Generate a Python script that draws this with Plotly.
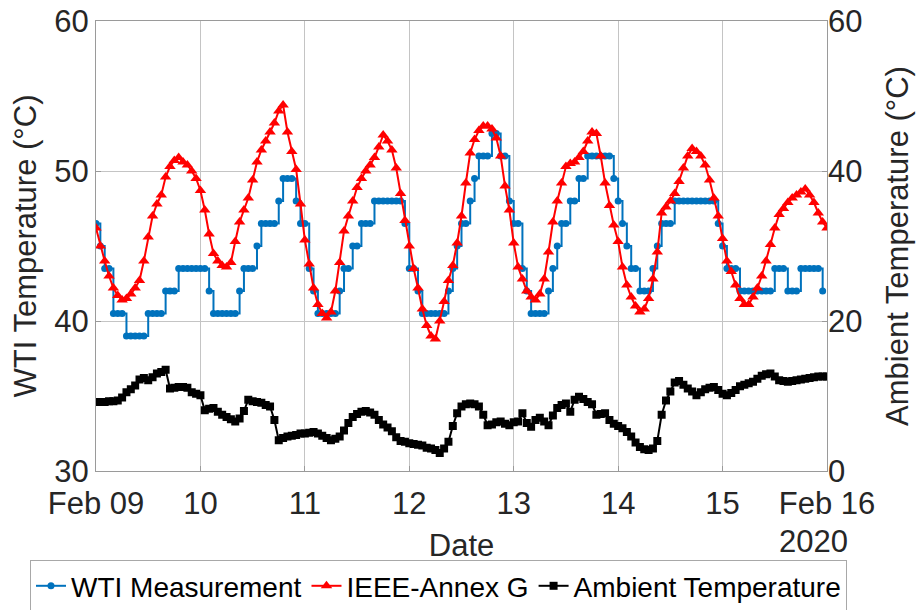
import plotly.graph_objects as go
import pandas as pd

start = "2020-02-09 00:00"

wti = [46.5, 45, 43.5, 43.5, 40.5, 40.5, 40.5, 39, 39, 39, 39, 39, 40.5, 40.5, 40.5, 40.5,
       42, 42, 42, 43.5, 43.5, 43.5, 43.5, 43.5, 43.5, 43.5, 42, 40.5, 40.5, 40.5, 40.5, 40.5,
       40.5, 42, 43.5, 43.5, 43.5, 45, 46.5, 46.5, 46.5, 46.5, 48, 49.5, 49.5, 49.5, 48, 46.5,
       46.5, 43.5, 42, 40.5, 40.5, 40.5, 40.5, 40.5, 42, 43.5, 43.5, 45, 45, 46.5, 46.5, 46.5,
       48, 48, 48, 48, 48, 48, 48, 46.5, 43.5, 43.5, 42, 40.5, 40.5, 40.5, 40.5, 40.5, 40.5,
       42, 43.5, 45, 46.5, 46.5, 48, 49.5, 51, 51, 51, 52.5, 52.5, 51, 51, 48, 46.5, 46.5,
       43.5, 42, 40.5, 40.5, 40.5, 40.5, 42, 43.5, 45, 46.5, 46.5, 48, 48, 49.5, 49.5, 51, 51,
       51, 51, 51, 51, 49.5, 48, 46.5, 45, 43.5, 43.5, 42, 42, 42, 43.5, 45, 46.5, 46.5, 46.5,
       48, 48, 48, 48, 48, 48, 48, 48, 48, 48, 46.5, 45, 43.5, 43.5, 43.5, 42, 42, 42, 42, 42,
       42, 42, 42, 43.5, 43.5, 43.5, 42, 42, 42, 43.5, 43.5, 43.5, 43.5, 43.5, 42]

ieee = [46.2, 45.0, 44.0, 43.0, 42.2, 41.7, 41.4, 41.5, 41.8, 42.2, 42.7, 44.0, 45.6, 47.0,
        47.8, 48.4, 49.6, 50.3, 50.7, 50.9, 50.6, 50.4, 50.0, 49.5, 48.7, 47.4, 45.8, 44.5,
        44.0, 43.7, 43.6, 43.9, 45.3, 46.6, 47.4, 48.2, 49.4, 50.6, 51.4, 52.0, 52.6, 53.2,
        54.0, 54.4, 52.6, 51.3, 50.1, 47.8, 45.4, 43.8, 42.2, 41.1, 40.5, 40.2, 40.6, 42.0,
        43.9, 46.0, 47.0, 48.0, 48.9, 49.5, 50.0, 50.4, 50.9, 51.6, 52.4, 52.0, 51.4, 50.2,
        48.5, 46.7, 45.0, 43.5, 42.2, 40.8, 39.7, 39.0, 38.8, 40.0, 41.3, 42.7, 43.7, 45.2,
        47.0, 49.2, 51.2, 52.1, 52.7, 53.0, 53.0, 52.8, 52.2, 51.0, 49.0, 47.4, 45.2, 43.6,
        42.8, 42.0, 41.6, 41.4, 41.8, 42.8, 44.6, 46.6, 48.0, 49.2, 50.3, 50.5, 50.6, 50.9,
        51.3, 52.0, 52.6, 52.5, 51.0, 49.2, 47.7, 46.4, 45.3, 43.6, 42.4, 41.6, 41.0, 40.6,
        40.8, 41.5, 42.8, 44.6, 47.2, 47.6, 48.0, 48.5, 49.3, 50.2, 51.0, 51.5, 51.3, 51.0,
        50.4, 49.4, 48.2, 47.0, 45.5, 44.0, 43.3, 42.4, 41.5, 41.1, 41.1, 41.6, 42.2, 43.0,
        44.0, 45.1, 46.2, 47.1, 47.5, 47.9, 48.2, 48.4, 48.6, 48.8, 48.4, 47.9, 47.2, 46.6,
        46.2]

ambient = [9.2, 9.2, 9.2, 9.3, 9.3, 9.4, 9.8, 10.5, 10.9, 11.4, 12.2, 12.4, 12.1, 12.5,
           13.0, 13.2, 13.5, 11.0, 11.1, 11.2, 11.2, 11.1, 10.5, 10.3, 10.1, 8.1, 8.3, 8.4,
           7.9, 7.5, 7.2, 6.9, 6.6, 7.0, 8.0, 9.5, 9.3, 9.2, 9.1, 8.8, 8.6, 6.8, 4.1, 4.4,
           4.6, 4.7, 4.8, 5.0, 5.0, 5.1, 5.2, 5.0, 4.7, 4.4, 4.1, 4.3, 4.6, 5.4, 6.4, 7.2,
           7.6, 7.9, 8.0, 7.8, 7.5, 6.8, 6.2, 5.8, 5.3, 4.5, 4.0, 3.9, 3.7, 3.6, 3.5, 3.4,
           3.1, 3.0, 2.8, 2.4, 3.0, 3.9, 6.0, 7.7, 8.6, 8.9, 9.0, 8.9, 8.6, 7.5, 6.1, 6.2,
           6.5, 6.6, 6.3, 6.1, 6.5, 6.6, 7.7, 6.4, 5.9, 6.8, 7.1, 6.6, 6.1, 7.4, 8.4, 8.8,
           9.0, 7.9, 9.5, 9.9, 9.6, 9.2, 8.9, 7.5, 7.6, 7.7, 6.8, 6.3, 6.0, 5.7, 5.2, 4.6,
           3.8, 3.2, 2.9, 2.8, 3.0, 4.0, 7.5, 9.4, 10.6, 11.8, 12.0, 11.5, 11.0, 10.6, 10.1,
           10.5, 10.9, 11.1, 11.2, 10.8, 10.3, 10.1, 10.4, 10.8, 11.3, 11.5, 11.7, 11.9, 12.3,
           12.7, 12.9, 13.0, 12.6, 12.1, 12.0, 11.9, 12.0, 12.1, 12.2, 12.3, 12.4, 12.5, 12.6,
           12.6, 12.6]

day_ticks = ["2020-02-09", "2020-02-10", "2020-02-11", "2020-02-12", "2020-02-13",
             "2020-02-14", "2020-02-15", "2020-02-16"]
day_labels = ["Feb 09", "10", "11", "12", "13", "14", "15", "Feb 16"]
left_ticks = [30, 40, 50, 60]
right_ticks = [0, 20, 40, 60]

t_wti = pd.date_range(start, periods=len(wti), freq="h")
t_ieee = pd.date_range(start, periods=len(ieee), freq="h")
t_amb = pd.date_range(start, periods=len(ambient), freq="h")

FONT = "Liberation Sans, Arial, Helvetica, sans-serif"
TXT = "#262626"
FS = 31
GRID = "#c4c4c4"
AX = "#9a9a9a"

fig = go.Figure()
fig.add_trace(go.Scatter(x=t_wti, y=wti, mode="lines+markers", name="WTI Measurement",
                         line=dict(color="#0072BD", width=2, shape="hv"),
                         marker=dict(symbol="circle", size=7, color="#0072BD")))
fig.add_trace(go.Scatter(x=t_ieee, y=ieee, mode="lines+markers", name="IEEE-Annex G",
                         line=dict(color="#FF0000", width=2),
                         marker=dict(symbol="triangle-up", size=10, color="#FF0000")))
fig.add_trace(go.Scatter(x=t_amb, y=ambient, mode="lines+markers", name="Ambient Temperature",
                         yaxis="y2",
                         line=dict(color="#000000", width=2),
                         marker=dict(symbol="square", size=8, color="#000000")))

fig.update_layout(
    template="none",
    width=923, height=610,
    margin=dict(l=96, r=96, t=21, b=139, autoexpand=False),
    paper_bgcolor="white", plot_bgcolor="white",
    font=dict(family=FONT, size=FS, color=TXT),
    showlegend=True,
    legend=dict(orientation="h", x=-0.0903, xanchor="left", y=-0.198, yanchor="top",
                bgcolor="white", bordercolor="#a8a8a8", borderwidth=1,
                font=dict(size=28, color="#000000", family=FONT),
                itemwidth=30, tracegroupgap=0),
    xaxis=dict(range=[day_ticks[0], day_ticks[-1]], tickmode="array",
               tickvals=day_ticks, ticktext=day_labels,
               showgrid=True, gridcolor=GRID, gridwidth=1,
               showline=True, linecolor=AX, mirror=True, linewidth=1,
               ticks="inside", ticklen=5, tickcolor=AX,
               ticklabelstandoff=5,
               tickfont=dict(size=FS, color=TXT),
               automargin=False,
               title=dict(text="Date", font=dict(size=FS, color=TXT), standoff=14),
               zeroline=False),
    yaxis=dict(range=[30, 60], tickmode="array", tickvals=left_ticks,
               showgrid=True, gridcolor=GRID, gridwidth=1,
               showline=True, linecolor=AX, mirror=True, linewidth=1,
               ticks="inside", ticklen=5, tickcolor=AX,
               tickfont=dict(size=FS, color=TXT),
               automargin=False,
               title=dict(text="WTI Temperature (°C)", font=dict(size=FS, color=TXT), standoff=8),
               zeroline=False),
    yaxis2=dict(range=[0, 60], tickmode="array", tickvals=right_ticks,
                overlaying="y", side="right", showgrid=False,
                ticks="inside", ticklen=5, tickcolor=AX,
                tickfont=dict(size=FS, color=TXT),
                automargin=False,
                title=dict(text="Ambient Temperature (°C)", font=dict(size=FS, color=TXT), standoff=24),
                zeroline=False),
)

fig.add_annotation(text="2020", xref="paper", yref="paper", x=1.032, y=-0.156,
                   xanchor="right", yanchor="middle", showarrow=False,
                   font=dict(size=FS, color=TXT, family=FONT))

fig.write_html("out.html")
